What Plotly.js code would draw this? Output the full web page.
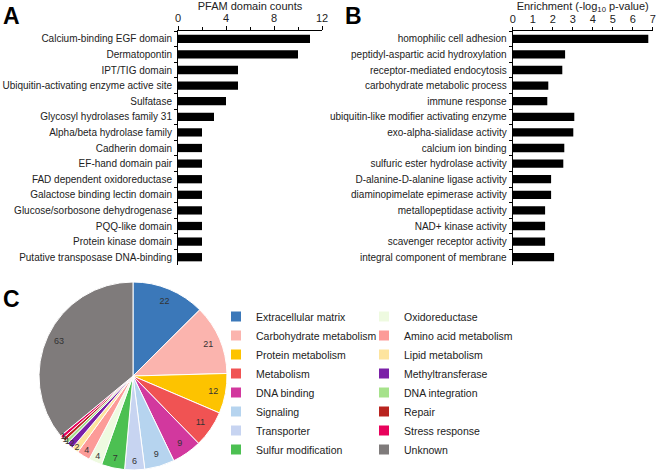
<!DOCTYPE html>
<html>
<head>
<meta charset="utf-8">
<script src="https://cdn.plot.ly/plotly-3.0.1.min.js"></script>
<style>html,body{margin:0;padding:0;background:#fff;}#chart{width:660px;height:472px;}</style>
</head>
<body>
<div id="chart"></div>
<script>
// ---- Panel A: PFAM domain counts ----
const pfamDomains = [
  "Calcium-binding EGF domain", "Dermatopontin", "IPT/TIG domain",
  "Ubiquitin-activating enzyme active site", "Sulfatase", "Glycosyl hydrolases family 31",
  "Alpha/beta hydrolase family", "Cadherin domain", "EF-hand domain pair",
  "FAD dependent oxidoreductase", "Galactose binding lectin domain",
  "Glucose/sorbosone dehydrogenase", "PQQ-like domain", "Protein kinase domain",
  "Putative transposase DNA-binding"
];
const pfamCounts = [11, 10, 5, 5, 4, 3, 2, 2, 2, 2, 2, 2, 2, 2, 2];
const pfamTicks = [0, 4, 8, 12];

// ---- Panel B: GO enrichment ----
const goTerms = [
  "homophilic cell adhesion", "peptidyl-aspartic acid hydroxylation",
  "receptor-mediated endocytosis", "carbohydrate metabolic process", "immune response",
  "ubiquitin-like modifier activating enzyme", "exo-alpha-sialidase activity",
  "calcium ion binding", "sulfuric ester hydrolase activity",
  "D-alanine-D-alanine ligase activity", "diaminopimelate epimerase activity",
  "metallopeptidase activity", "NAD+ kinase activity", "scavenger receptor activity",
  "integral component of membrane"
];
const goEnrichment = [6.78, 2.62, 2.48, 1.78, 1.73, 3.08, 3.03, 2.58, 2.53, 1.92, 1.92, 1.62, 1.62, 1.62, 2.07];
const goTicks = [0, 1, 2, 3, 4, 5, 6, 7];

// ---- Panel C: functional categories ----
const pieCategories = [
  "Extracellular matrix", "Carbohydrate metabolism", "Protein metabolism", "Metabolism",
  "DNA binding", "Signaling", "Transporter", "Sulfur modification",
  "Oxidoreductase", "Amino acid metabolism", "Lipid metabolism", "Methyltransferase",
  "DNA integration", "Repair", "Stress response", "Unknown"
];
const pieCounts = [22, 21, 12, 11, 9, 9, 6, 7, 4, 4, 2, 2, 1, 1, 1, 63];
const pieColors = [
  "#3b78b9", "#fbb4ae", "#fdc300", "#f05353", "#d2389e", "#b6d4ef", "#c7d4f1", "#4cc052",
  "#eefae0", "#fc9b98", "#fde49e", "#7b20a8", "#a6e28b", "#b9241f", "#e8025c", "#7f7b7b"
];

const FONT = "Liberation Sans, Arial, sans-serif";
const TXT = "#222";
const pieDomain = {x: [39/660, 227/660], y: [2/472, 190/472]};

const traces = [
  {
    type: "bar", orientation: "h", x: pfamCounts, y: pfamDomains,
    xaxis: "x", yaxis: "y", marker: {color: "#000"}, showlegend: false, hoverinfo: "x+y"
  },
  {
    type: "bar", orientation: "h", x: goEnrichment, y: goTerms,
    xaxis: "x2", yaxis: "y2", marker: {color: "#000"}, showlegend: false, hoverinfo: "x+y"
  },
  {
    type: "pie", labels: pieCategories, values: pieCounts, sort: false,
    direction: "clockwise", rotation: 0,
    marker: {colors: pieColors, line: {color: "#fff", width: 1}},
    textinfo: "none", domain: pieDomain, showlegend: false, automargin: false
  },
  {
    // transparent ring carrying the value labels near the rim
    type: "pie", labels: pieCategories, values: pieCounts, sort: false,
    direction: "clockwise", rotation: 0, hole: 0.74,
    marker: {colors: pieCategories.map(function () { return "rgba(0,0,0,0)"; }), line: {width: 0}},
    textinfo: "value", textposition: "inside", insidetextorientation: "horizontal",
    textfont: {family: FONT, size: 9, color: "#333"},
    domain: pieDomain, showlegend: false, automargin: false, hoverinfo: "skip"
  }
];

// legend entries (two columns)
pieCategories.forEach(function (name, i) {
  traces.push({
    type: "scatter", mode: "markers", x: [null], y: [null],
    xaxis: "x3", yaxis: "y3", name: name,
    marker: {symbol: "square", size: 10, color: pieColors[i]},
    legend: i < 8 ? "legend" : "legend2", hoverinfo: "skip"
  });
});

const legendCommon = {
  font: {family: FONT, size: 10.5, color: TXT},
  bgcolor: "rgba(0,0,0,0)", borderwidth: 0,
  xanchor: "left", yanchor: "top", tracegroupgap: 0, itemclick: false
};

const layout = {
  width: 660, height: 472,
  margin: {l: 0, r: 0, t: 0, b: 0, pad: 0},
  paper_bgcolor: "#fff", plot_bgcolor: "#fff",
  font: {family: FONT, size: 11, color: TXT},
  bargap: 0.47,
  xaxis: {
    domain: [178/660, 322/660], anchor: "y", side: "top", range: [0, 12],
    tickvals: pfamTicks, ticks: "outside", ticklen: 4, tickcolor: "#000",
    minor: {dtick: 2, ticks: "outside", ticklen: 3, tickcolor: "#000"},
    showline: true, linecolor: "#000", linewidth: 1, showgrid: false, zeroline: false,
    tickfont: {size: 11}, fixedrange: true,
    title: {text: "PFAM domain counts", font: {size: 11}, standoff: 3}
  },
  yaxis: {
    domain: [207/472, 441/472], anchor: "x", type: "category", autorange: "reversed",
    ticks: "outside", tickson: "boundaries", ticklen: 3, tickcolor: "#000",
    ticklabelstandoff: 3,
    showline: true, linecolor: "#000", linewidth: 1, showgrid: false, zeroline: false,
    tickfont: {size: 10}, fixedrange: true
  },
  xaxis2: {
    domain: [512.7/660, 652.7/660], anchor: "y2", side: "top", range: [0, 7],
    tickvals: goTicks, ticks: "outside", ticklen: 3, tickcolor: "#000",
    showline: true, linecolor: "#000", linewidth: 1, showgrid: false, zeroline: false,
    tickfont: {size: 11}, fixedrange: true,
    title: {text: "Enrichment (-log<sub>10</sub> p-value)", font: {size: 11}, standoff: 3}
  },
  yaxis2: {
    domain: [207/472, 441/472], anchor: "x2", type: "category", autorange: "reversed",
    ticks: "outside", tickson: "boundaries", ticklen: 3, tickcolor: "#000",
    ticklabelstandoff: 3,
    showline: true, linecolor: "#000", linewidth: 1, showgrid: false, zeroline: false,
    tickfont: {size: 10}, fixedrange: true
  },
  xaxis3: {domain: [0.99, 1], anchor: "y3", visible: false},
  yaxis3: {domain: [0, 0.01], anchor: "x3", visible: false},
  legend: Object.assign({x: 216/660, y: 1 - 302/472}, legendCommon),
  legend2: Object.assign({x: 364/660, y: 1 - 302/472}, legendCommon),
  annotations: [
    {text: "<b>A</b>", xref: "paper", yref: "paper", x: 1/660, y: 1 - 1/472,
     xanchor: "left", yanchor: "top", showarrow: false, font: {family: FONT, size: 23, color: "#000"}},
    {text: "<b>B</b>", xref: "paper", yref: "paper", x: 343/660, y: 1 - 1/472,
     xanchor: "left", yanchor: "top", showarrow: false, font: {family: FONT, size: 23, color: "#000"}},
    {text: "<b>C</b>", xref: "paper", yref: "paper", x: 1/660, y: 1 - 284/472,
     xanchor: "left", yanchor: "top", showarrow: false, font: {family: FONT, size: 23, color: "#000"}}
  ],
  uniformtext: {mode: "show", minsize: 9},
  showlegend: true
};

Plotly.newPlot("chart", traces, layout, {displayModeBar: false, staticPlot: true});
</script>
</body>
</html>
